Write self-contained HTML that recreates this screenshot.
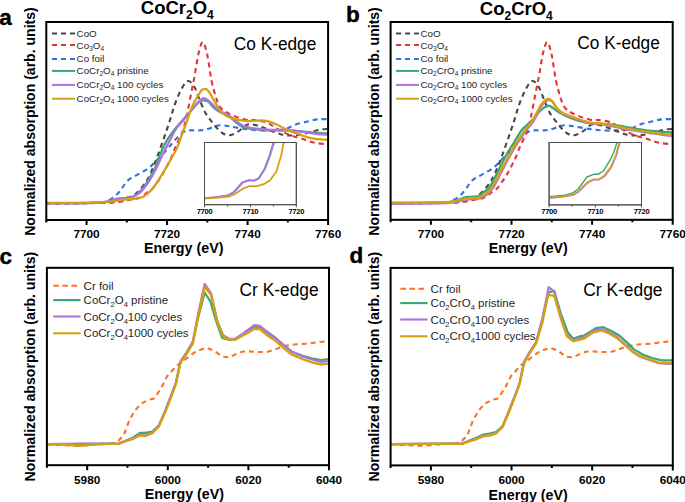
<!DOCTYPE html>
<html><head><meta charset="utf-8"><style>
html,body{margin:0;padding:0;background:#fff;}
svg{display:block;}
text{font-family:"Liberation Sans", sans-serif;}
</style></head><body>
<svg width="685" height="502" viewBox="0 0 685 502">
<rect x="0" y="0" width="685" height="502" fill="#fff"/>
<defs><clipPath id="ca"><rect x="46.3" y="22" width="281.8" height="198"/></clipPath><clipPath id="cb"><rect x="390.6" y="22" width="282.1" height="198"/></clipPath><clipPath id="cc"><rect x="46.9" y="267.8" width="282.1" height="197.4"/></clipPath><clipPath id="cd"><rect x="390.6" y="267.9" width="282.2" height="197.5"/></clipPath><clipPath id="cia"><rect x="204.5" y="142.5" width="92" height="62.2"/></clipPath><clipPath id="cib"><rect x="549.1" y="142.5" width="92.4" height="62.4"/></clipPath></defs>
<g>
<path d="M46.3,203.5 C53.58,203.42 81.05,203.17 90,203 C98.95,202.83 97.12,202.83 100,202.5 C102.88,202.17 104.63,202.2 107.3,201 C109.97,199.8 113.57,197.43 116,195.3 C118.43,193.17 119.93,190.67 121.9,188.2 C123.87,185.73 125.62,182.53 127.8,180.5 C129.98,178.47 132.33,177.55 135,176 C137.67,174.45 141.18,172.8 143.8,171.2 C146.42,169.6 148.5,168.27 150.7,166.4 C152.9,164.53 154.78,162.25 157,160 C159.22,157.75 161.83,155.25 164,152.9 C166.17,150.55 168,148.23 170,145.9 C172,143.57 173.85,141.15 176,138.9 C178.15,136.65 180.58,133.82 182.9,132.4 C185.22,130.98 187.07,130.73 189.9,130.4 C192.73,130.07 196.9,130.65 199.9,130.4 C202.9,130.15 205.25,129.63 207.9,128.9 C210.55,128.17 213.45,126.6 215.8,126 C218.15,125.4 219.63,125.23 222,125.3 C224.37,125.37 226.23,125.8 230,126.4 C233.77,127 239.73,128.23 244.6,128.9 C249.47,129.57 254.33,130.15 259.2,130.4 C264.07,130.65 269.42,130.65 273.8,130.4 C278.18,130.15 281.85,129.88 285.5,128.9 C289.15,127.92 292.05,125.72 295.7,124.5 C299.35,123.28 303.75,122.45 307.4,121.6 C311.05,120.75 314.17,119.82 317.6,119.4 C321.03,118.98 326.27,119.15 328,119.1" fill="none" stroke="#2b72e2" stroke-width="2.1" stroke-linejoin="round" stroke-dasharray="5 4" stroke-linecap="butt" clip-path="url(#ca)"/>
<path d="M46.3,203.5 C53.58,203.45 79.72,203.37 90,203.2 C100.28,203.03 103.33,202.87 108,202.5 C112.67,202.13 115,201.75 118,201 C121,200.25 123.2,199.07 126,198 C128.8,196.93 131.73,196.9 134.8,194.6 C137.87,192.3 141.75,187.8 144.4,184.2 C147.05,180.6 148.58,177.52 150.7,173 C152.82,168.48 154.88,162.95 157.1,157.1 C159.32,151.25 161.85,144.08 164,137.9 C166.15,131.72 168.17,125.67 170,120 C171.83,114.33 173,109.23 175,103.9 C177,98.57 179.85,91.82 182,88 C184.15,84.18 185.92,81.33 187.9,81 C189.88,80.67 192.07,83.18 193.9,86 C195.73,88.82 197.07,93.58 198.9,97.9 C200.73,102.22 202.73,107.9 204.9,111.9 C207.07,115.9 209.9,119.23 211.9,121.9 C213.9,124.57 215.05,125.97 216.9,127.9 C218.75,129.83 220.82,132.28 223,133.5 C225.18,134.72 227.37,135.6 230,135.2 C232.63,134.8 235.88,132.88 238.8,131.1 C241.72,129.32 244.58,125.47 247.5,124.5 C250.42,123.53 253.38,124.68 256.3,125.3 C259.22,125.92 262.08,127.12 265,128.2 C267.92,129.28 270.87,130.72 273.8,131.8 C276.73,132.88 279.68,134.08 282.6,134.7 C285.52,135.32 288.4,135.5 291.3,135.5 C294.2,135.5 296.58,135.32 300,134.7 C303.42,134.08 308.38,132.65 311.8,131.8 C315.22,130.95 317.8,130.08 320.5,129.6 C323.2,129.12 326.75,129.02 328,128.9" fill="none" stroke="#484848" stroke-width="2.1" stroke-linejoin="round" stroke-dasharray="5 4" stroke-linecap="butt" clip-path="url(#ca)"/>
<path d="M46.3,203.3 C55.25,203.22 88.05,203.02 100,202.8 C111.95,202.58 113,202.5 118,202 C123,201.5 126.33,200.55 130,199.8 C133.67,199.05 137.17,198.72 140,197.5 C142.83,196.28 144.87,194.05 147,192.5 C149.13,190.95 151.03,189.97 152.8,188.2 C154.57,186.43 156.02,184.15 157.6,181.9 C159.18,179.65 160.78,177.23 162.3,174.7 C163.82,172.17 165.23,169.48 166.7,166.7 C168.17,163.92 169.9,160.65 171.1,158 C172.3,155.35 172.92,153.22 173.9,150.8 C174.88,148.38 175.65,146.47 177,143.5 C178.35,140.53 180.45,137.3 182,133 C183.55,128.7 184.85,123.9 186.3,117.7 C187.75,111.5 189.25,103.12 190.7,95.8 C192.15,88.48 193.72,80.75 195,73.8 C196.28,66.85 197.12,59.4 198.4,54.1 C199.68,48.8 201.25,42 202.7,42 C204.15,42 205.63,47.7 207.1,54.1 C208.57,60.5 210.03,73.27 211.5,80.4 C212.97,87.53 214.5,92.48 215.9,96.9 C217.3,101.32 217.88,104.17 219.9,106.9 C221.92,109.63 223.88,111.22 228,113.3 C232.12,115.38 240.13,118.27 244.6,119.4 C249.07,120.53 251.15,119.62 254.8,120.1 C258.45,120.58 263.33,121.2 266.5,122.3 C269.67,123.4 271.12,125.12 273.8,126.7 C276.48,128.28 279.68,130.33 282.6,131.8 C285.52,133.27 287.9,134.28 291.3,135.5 C294.7,136.72 299.1,137.88 303,139.1 C306.9,140.32 310.53,141.95 314.7,142.8 C318.87,143.65 325.78,143.97 328,144.2" fill="none" stroke="#ea3038" stroke-width="2.1" stroke-linejoin="round" stroke-dasharray="5 4" stroke-linecap="butt" clip-path="url(#ca)"/>
<path d="M46.3,203.3 C53.58,203.25 80.22,203.22 90,203 C99.78,202.78 101.33,202.45 105,202 C108.67,201.55 109.83,200.85 112,200.3 C114.17,199.75 115.83,199.05 118,198.7 C120.17,198.35 122.67,198.48 125,198.2 C127.33,197.92 129.67,197.95 132,197 C134.33,196.05 136.33,195.25 139,192.5 C141.67,189.75 145.25,184.75 148,180.5 C150.75,176.25 153.5,171.27 155.5,167 C157.5,162.73 158.25,159.08 160,154.9 C161.75,150.72 163.5,146.23 166,141.9 C168.5,137.57 172.33,132.4 175,128.9 C177.67,125.4 179.85,123.4 182,120.9 C184.15,118.4 185.92,116.15 187.9,113.9 C189.88,111.65 191.9,109.48 193.9,107.4 C195.9,105.32 198.4,102.57 199.9,101.4 C201.4,100.23 201.57,100.4 202.9,100.4 C204.23,100.4 206.23,100.32 207.9,101.4 C209.57,102.48 211.23,105.32 212.9,106.9 C214.57,108.48 216.42,109.9 217.9,110.9 C219.38,111.9 219.78,111.8 221.8,112.9 C223.82,114 226.68,115.23 230,117.5 C233.32,119.77 238.05,124.58 241.7,126.5 C245.35,128.42 247.77,128.35 251.9,129 C256.03,129.65 260.42,130.17 266.5,130.4 C272.58,130.63 282.32,130.22 288.4,130.4 C294.48,130.58 298.13,131.1 303,131.5 C307.87,131.9 313.43,132.5 317.6,132.8 C321.77,133.1 326.27,133.22 328,133.3" fill="none" stroke="#3ba671" stroke-width="2.1" stroke-linejoin="round" stroke-linecap="round" clip-path="url(#ca)"/>
<path d="M46.3,203.3 C53.58,203.25 80.22,203.22 90,203 C99.78,202.78 101.33,202.45 105,202 C108.67,201.55 109.83,200.85 112,200.3 C114.17,199.75 115.83,199.05 118,198.7 C120.17,198.35 122.67,198.45 125,198.2 C127.33,197.95 129.57,198.07 132,197.2 C134.43,196.33 136.75,195.7 139.6,193 C142.45,190.3 146.18,185.38 149.1,181 C152.02,176.62 154.95,170.88 157.1,166.7 C159.25,162.52 160.02,160.03 162,155.9 C163.98,151.77 166.67,146.4 169,141.9 C171.33,137.4 173.83,132.23 176,128.9 C178.17,125.57 180.02,124.23 182,121.9 C183.98,119.57 185.92,117.4 187.9,114.9 C189.88,112.4 192.07,109.15 193.9,106.9 C195.73,104.65 197.4,102.82 198.9,101.4 C200.4,99.98 201.57,98.73 202.9,98.4 C204.23,98.07 205.4,98.48 206.9,99.4 C208.4,100.32 210.23,102.32 211.9,103.9 C213.57,105.48 215.25,107.57 216.9,108.9 C218.55,110.23 219.65,110.73 221.8,111.9 C223.95,113.07 226.48,113.72 229.8,115.9 C233.12,118.08 238.02,122.95 241.7,125 C245.38,127.05 247.77,127.43 251.9,128.2 C256.03,128.97 260.42,129.23 266.5,129.6 C272.58,129.97 282.32,130.03 288.4,130.4 C294.48,130.77 298.13,131.2 303,131.8 C307.87,132.4 313.43,133.52 317.6,134 C321.77,134.48 326.27,134.58 328,134.7" fill="none" stroke="#b072e2" stroke-width="2.3" stroke-linejoin="round" stroke-linecap="round" clip-path="url(#ca)"/>
<path d="M46.3,203 C55.25,202.88 88.55,202.63 100,202.3 C111.45,201.97 110.83,201.47 115,201 C119.17,200.53 121.9,199.85 125,199.5 C128.1,199.15 130.63,199.32 133.6,198.9 C136.57,198.48 139.68,198.65 142.8,197 C145.92,195.35 149.12,192.72 152.3,189 C155.48,185.28 158.87,179.53 161.9,174.7 C164.93,169.87 167.98,164.47 170.5,160 C173.02,155.53 174.93,152.57 177,147.9 C179.07,143.23 181.08,136.9 182.9,132 C184.72,127.1 186.23,123.02 187.9,118.5 C189.57,113.98 191.23,108.65 192.9,104.9 C194.57,101.15 196.4,98.48 197.9,96 C199.4,93.52 200.4,91.08 201.9,90 C203.4,88.92 205.4,88.67 206.9,89.5 C208.4,90.33 209.57,92.93 210.9,95 C212.23,97.07 213.57,99.58 214.9,101.9 C216.23,104.22 217.42,106.9 218.9,108.9 C220.38,110.9 221.98,112.48 223.8,113.9 C225.62,115.32 226.33,116.23 229.8,117.4 C233.27,118.57 240.18,120.37 244.6,120.9 C249.02,121.43 252.65,120.6 256.3,120.6 C259.95,120.6 263.1,120.25 266.5,120.9 C269.9,121.55 273.05,122.92 276.7,124.5 C280.35,126.08 284.52,128.7 288.4,130.4 C292.28,132.1 296.1,133.37 300,134.7 C303.9,136.03 307.13,137.53 311.8,138.4 C316.47,139.27 325.3,139.65 328,139.9" fill="none" stroke="#d5a114" stroke-width="2.3" stroke-linejoin="round" stroke-linecap="round" clip-path="url(#ca)"/>
</g>
<rect x="204.5" y="142.5" width="91.8" height="62.2" fill="#fff" stroke="#505050" stroke-width="1"/>
<path d="M203.9,198.2 L215.3,197.2 L228.1,195.3 L233.6,192.1 L242.4,182.3 L248.8,180.2 L253.5,180.7 L258.3,178.6 L264.7,168.3 L269.5,155.5 L273.4,142.5 L275.4,135" fill="none" stroke="#3ba671" stroke-width="1.6" stroke-linejoin="round" stroke-linecap="round" clip-path="url(#cia)"/>
<path d="M204.5,198.2 L215.9,197.2 L228.7,195.3 L234.2,192.1 L243,182.3 L249.4,180.2 L254.1,180.7 L258.9,178.6 L265.3,168.3 L270.1,155.5 L274,142.5 L276,135" fill="none" stroke="#b072e2" stroke-width="1.8" stroke-linejoin="round" stroke-linecap="round" clip-path="url(#cia)"/>
<path d="M204.5,198.5 L215.9,197.9 L228.7,196.6 L234.2,194.5 L243,188.6 L249.4,186.2 L257.3,186.2 L263.7,184.2 L270.1,180.2 L276.4,171.4 L281.2,155.5 L283.6,142.5 L285,135" fill="none" stroke="#d5a114" stroke-width="1.8" stroke-linejoin="round" stroke-linecap="round" clip-path="url(#cia)"/>
<rect x="204.5" y="142.5" width="91.8" height="62.2" fill="none" stroke="#505050" stroke-width="1"/>
<path d="M204.5,204.7 V207.2 M227.5,204.7 V206.5 M250.4,204.7 V207.2 M273.4,204.7 V206.5 M296.3,204.7 V207.2" stroke="#505050" stroke-width="1"/>
<text x="204.5" y="214" text-anchor="middle" font-size="7.6" font-weight="bold" letter-spacing="-0.3">7700</text>
<text x="250.4" y="214" text-anchor="middle" font-size="7.6" font-weight="bold" letter-spacing="-0.3">7710</text>
<text x="296.3" y="214" text-anchor="middle" font-size="7.6" font-weight="bold" letter-spacing="-0.3">7720</text>
<rect x="46.3" y="22" width="281.8" height="198" fill="none" stroke="#000" stroke-width="2"/>
<path d="M46.3,220 V222.5 M86.56,220 V225 M126.81,220 V222.5 M167.07,220 V225 M207.33,220 V222.5 M247.59,220 V225 M287.84,220 V222.5 M328.1,220 V225 " stroke="#000" stroke-width="2" fill="none"/>
<text x="86.56" y="237.7" text-anchor="middle" font-weight="bold" font-size="11.8">7700</text>
<text x="167.07" y="237.7" text-anchor="middle" font-weight="bold" font-size="11.8">7720</text>
<text x="247.59" y="237.7" text-anchor="middle" font-weight="bold" font-size="11.8">7740</text>
<text x="328.1" y="237.7" text-anchor="middle" font-weight="bold" font-size="11.8">7760</text>
<path d="M390.7,203.5 C397.98,203.42 425.45,203.17 434.4,203 C443.35,202.83 441.52,202.83 444.4,202.5 C447.28,202.17 449.03,202.2 451.7,201 C454.37,199.8 457.97,197.43 460.4,195.3 C462.83,193.17 464.33,190.67 466.3,188.2 C468.27,185.73 470.02,182.53 472.2,180.5 C474.38,178.47 476.73,177.55 479.4,176 C482.07,174.45 485.58,172.8 488.2,171.2 C490.82,169.6 492.9,168.27 495.1,166.4 C497.3,164.53 499.18,162.25 501.4,160 C503.62,157.75 506.23,155.25 508.4,152.9 C510.57,150.55 512.4,148.23 514.4,145.9 C516.4,143.57 518.25,141.15 520.4,138.9 C522.55,136.65 524.98,133.82 527.3,132.4 C529.62,130.98 531.47,130.73 534.3,130.4 C537.13,130.07 541.3,130.65 544.3,130.4 C547.3,130.15 549.65,129.63 552.3,128.9 C554.95,128.17 557.85,126.6 560.2,126 C562.55,125.4 564.03,125.23 566.4,125.3 C568.77,125.37 570.63,125.8 574.4,126.4 C578.17,127 584.13,128.23 589,128.9 C593.87,129.57 598.73,130.15 603.6,130.4 C608.47,130.65 613.82,130.65 618.2,130.4 C622.58,130.15 626.25,129.88 629.9,128.9 C633.55,127.92 636.45,125.72 640.1,124.5 C643.75,123.28 648.15,122.45 651.8,121.6 C655.45,120.75 658.57,119.82 662,119.4 C665.43,118.98 670.67,119.15 672.4,119.1" fill="none" stroke="#2b72e2" stroke-width="2.1" stroke-linejoin="round" stroke-dasharray="5 4" stroke-linecap="butt" clip-path="url(#cb)"/>
<path d="M390.7,203.5 C397.98,203.45 424.12,203.37 434.4,203.2 C444.68,203.03 447.73,202.87 452.4,202.5 C457.07,202.13 459.4,201.75 462.4,201 C465.4,200.25 467.6,199.07 470.4,198 C473.2,196.93 476.13,196.9 479.2,194.6 C482.27,192.3 486.15,187.8 488.8,184.2 C491.45,180.6 492.98,177.52 495.1,173 C497.22,168.48 499.28,162.95 501.5,157.1 C503.72,151.25 506.25,144.08 508.4,137.9 C510.55,131.72 512.57,125.67 514.4,120 C516.23,114.33 517.4,109.23 519.4,103.9 C521.4,98.57 524.25,91.82 526.4,88 C528.55,84.18 530.32,81.33 532.3,81 C534.28,80.67 536.47,83.18 538.3,86 C540.13,88.82 541.47,93.58 543.3,97.9 C545.13,102.22 547.13,107.9 549.3,111.9 C551.47,115.9 554.3,119.23 556.3,121.9 C558.3,124.57 559.45,125.97 561.3,127.9 C563.15,129.83 565.22,132.28 567.4,133.5 C569.58,134.72 571.77,135.6 574.4,135.2 C577.03,134.8 580.28,132.88 583.2,131.1 C586.12,129.32 588.98,125.47 591.9,124.5 C594.82,123.53 597.78,124.68 600.7,125.3 C603.62,125.92 606.48,127.12 609.4,128.2 C612.32,129.28 615.27,130.72 618.2,131.8 C621.13,132.88 624.08,134.08 627,134.7 C629.92,135.32 632.8,135.5 635.7,135.5 C638.6,135.5 640.98,135.32 644.4,134.7 C647.82,134.08 652.78,132.65 656.2,131.8 C659.62,130.95 662.2,130.08 664.9,129.6 C667.6,129.12 671.15,129.02 672.4,128.9" fill="none" stroke="#484848" stroke-width="2.1" stroke-linejoin="round" stroke-dasharray="5 4" stroke-linecap="butt" clip-path="url(#cb)"/>
<path d="M390.7,203.3 C399.65,203.22 432.45,203.02 444.4,202.8 C456.35,202.58 457.4,202.5 462.4,202 C467.4,201.5 470.73,200.55 474.4,199.8 C478.07,199.05 481.57,198.72 484.4,197.5 C487.23,196.28 489.27,194.05 491.4,192.5 C493.53,190.95 495.43,189.97 497.2,188.2 C498.97,186.43 500.42,184.15 502,181.9 C503.58,179.65 505.18,177.23 506.7,174.7 C508.22,172.17 509.63,169.48 511.1,166.7 C512.57,163.92 514.3,160.65 515.5,158 C516.7,155.35 517.32,153.22 518.3,150.8 C519.28,148.38 520.05,146.47 521.4,143.5 C522.75,140.53 524.85,137.3 526.4,133 C527.95,128.7 529.25,123.9 530.7,117.7 C532.15,111.5 533.65,103.12 535.1,95.8 C536.55,88.48 538.12,80.75 539.4,73.8 C540.68,66.85 541.52,59.4 542.8,54.1 C544.08,48.8 545.65,42 547.1,42 C548.55,42 550.03,47.7 551.5,54.1 C552.97,60.5 554.43,73.27 555.9,80.4 C557.37,87.53 558.9,92.48 560.3,96.9 C561.7,101.32 562.28,104.17 564.3,106.9 C566.32,109.63 568.28,111.22 572.4,113.3 C576.52,115.38 584.53,118.27 589,119.4 C593.47,120.53 595.55,119.62 599.2,120.1 C602.85,120.58 607.73,121.2 610.9,122.3 C614.07,123.4 615.52,125.12 618.2,126.7 C620.88,128.28 624.08,130.33 627,131.8 C629.92,133.27 632.3,134.28 635.7,135.5 C639.1,136.72 643.5,137.88 647.4,139.1 C651.3,140.32 654.93,141.95 659.1,142.8 C663.27,143.65 670.18,143.97 672.4,144.2" fill="none" stroke="#ea3038" stroke-width="2.1" stroke-linejoin="round" stroke-dasharray="5 4" stroke-linecap="butt" clip-path="url(#cb)"/>
<path d="M390.6,203 C398.83,202.92 429.77,202.75 440,202.5 C450.23,202.25 448.67,202.08 452,201.5 C455.33,200.92 457.33,199.75 460,199 C462.67,198.25 465,197.45 468,197 C471,196.55 475.4,197.1 478,196.3 C480.6,195.5 481.6,193.82 483.6,192.2 C485.6,190.58 487.62,190.05 490,186.6 C492.38,183.15 495.25,176.68 497.9,171.5 C500.55,166.32 503.23,160.28 505.9,155.5 C508.57,150.72 511.25,147.05 513.9,142.8 C516.55,138.55 518.7,133.82 521.8,130 C524.9,126.18 529.47,123.07 532.5,119.9 C535.53,116.73 537.45,113.38 540,111 C542.55,108.62 545.63,106.1 547.8,105.6 C549.97,105.1 551.17,106.9 553,108 C554.83,109.1 556,110.58 558.8,112.2 C561.6,113.82 564.83,115.88 569.8,117.7 C574.77,119.52 581.82,121.97 588.6,123.1 C595.38,124.23 603.2,123.65 610.5,124.5 C617.8,125.35 626.32,127.22 632.4,128.2 C638.48,129.18 642.13,129.8 647,130.4 C651.87,131 657.32,131.43 661.6,131.8 C665.88,132.17 670.85,132.47 672.7,132.6" fill="none" stroke="#3ba671" stroke-width="2.3" stroke-linejoin="round" stroke-linecap="round" clip-path="url(#cb)"/>
<path d="M391.4,204 C399.63,203.92 430.57,203.75 440.8,203.5 C451.03,203.25 449.47,202.92 452.8,202.5 C456.13,202.08 457.8,201.55 460.8,201 C463.8,200.45 467.8,199.57 470.8,199.2 C473.8,198.83 476.3,199.42 478.8,198.8 C481.3,198.18 483.38,197.37 485.8,195.5 C488.22,193.63 490.72,191.43 493.3,187.6 C495.88,183.77 498.63,177.55 501.3,172.5 C503.97,167.45 506.63,162.08 509.3,157.3 C511.97,152.52 514.58,148.1 517.3,143.8 C520.02,139.5 522.85,135.32 525.6,131.5 C528.35,127.68 531.05,125.23 533.8,120.9 C536.55,116.57 539.63,108.98 542.1,105.5 C544.57,102.02 546.82,100.58 548.6,100 C550.38,99.42 551.33,100.53 552.8,102 C554.27,103.47 555.53,106.75 557.4,108.8 C559.27,110.85 561.43,112.83 564,114.3 C566.57,115.77 568.57,116.1 572.8,117.6 C577.03,119.1 584.2,122.1 589.4,123.3 C594.6,124.5 599.13,124.07 604,124.8 C608.87,125.53 613.73,126.73 618.6,127.7 C623.47,128.67 628.33,129.75 633.2,130.6 C638.07,131.45 642.93,132.07 647.8,132.8 C652.67,133.53 658.12,134.43 662.4,135 C666.68,135.57 671.65,136 673.5,136.2" fill="none" stroke="#b072e2" stroke-width="2" stroke-linejoin="round" stroke-linecap="round" clip-path="url(#cb)"/>
<path d="M390.6,203 C398.83,202.92 429.77,202.75 440,202.5 C450.23,202.25 448.67,201.92 452,201.5 C455.33,201.08 457,200.55 460,200 C463,199.45 467,198.57 470,198.2 C473,197.83 475.5,198.42 478,197.8 C480.5,197.18 482.58,196.37 485,194.5 C487.42,192.63 489.92,190.43 492.5,186.6 C495.08,182.77 497.83,176.55 500.5,171.5 C503.17,166.45 505.83,161.08 508.5,156.3 C511.17,151.52 513.78,147.1 516.5,142.8 C519.22,138.5 522.05,134.32 524.8,130.5 C527.55,126.68 530.25,124.23 533,119.9 C535.75,115.57 538.83,107.98 541.3,104.5 C543.77,101.02 546.02,99.58 547.8,99 C549.58,98.42 550.53,99.53 552,101 C553.47,102.47 554.73,105.75 556.6,107.8 C558.47,109.85 560.63,111.83 563.2,113.3 C565.77,114.77 567.77,115.1 572,116.6 C576.23,118.1 583.4,121.1 588.6,122.3 C593.8,123.5 598.33,123.07 603.2,123.8 C608.07,124.53 612.93,125.73 617.8,126.7 C622.67,127.67 627.53,128.75 632.4,129.6 C637.27,130.45 642.13,131.07 647,131.8 C651.87,132.53 657.32,133.43 661.6,134 C665.88,134.57 670.85,135 672.7,135.2" fill="none" stroke="#d5a114" stroke-width="2.4" stroke-linejoin="round" stroke-linecap="round" clip-path="url(#cb)"/>
<rect x="549.1" y="142.5" width="92.4" height="62.4" fill="#fff" stroke="#505050" stroke-width="1"/>
<path d="M549.7,198.3 L565.3,196.7 L573.3,195.1 L578.8,191.9 L588.4,182.4 L594.8,179.7 L598.7,180 L604.3,176.8 L611.5,167.3 L616.3,156.1 L619.8,143.1 L621.6,135.6" fill="none" stroke="#b072e2" stroke-width="1.3" stroke-linejoin="round" stroke-linecap="round" clip-path="url(#cib)"/>
<path d="M549.1,196.6 L564.7,195.3 L572.7,192.9 L578.2,189 L587,177 L593.4,174.3 L598.1,174.3 L603.7,170.6 L610.9,158.7 L614.1,151.5 L617,142.5 L619,135" fill="none" stroke="#3ba671" stroke-width="1.4" stroke-linejoin="round" stroke-linecap="round" clip-path="url(#cib)"/>
<path d="M549.1,197.7 L564.7,196.1 L572.7,194.5 L578.2,191.3 L587.8,181.8 L594.2,179.1 L598.1,179.4 L603.7,176.2 L610.9,166.7 L615.7,155.5 L619.2,142.5 L621,135" fill="none" stroke="#d5a114" stroke-width="1.5" stroke-linejoin="round" stroke-linecap="round" clip-path="url(#cib)"/>
<rect x="549.1" y="142.5" width="92.4" height="62.4" fill="none" stroke="#505050" stroke-width="1"/>
<path d="M549.1,204.9 V207.4 M572.2,204.9 V206.7 M595.3,204.9 V207.4 M618.4,204.9 V206.7 M641.5,204.9 V207.4" stroke="#505050" stroke-width="1"/>
<text x="549.1" y="214" text-anchor="middle" font-size="7.6" font-weight="bold" letter-spacing="-0.3">7700</text>
<text x="595.3" y="214" text-anchor="middle" font-size="7.6" font-weight="bold" letter-spacing="-0.3">7710</text>
<text x="641.5" y="214" text-anchor="middle" font-size="7.6" font-weight="bold" letter-spacing="-0.3">7720</text>
<rect x="390.6" y="22" width="282.1" height="197.8" fill="none" stroke="#000" stroke-width="2"/>
<path d="M390.6,219.8 V222.3 M430.9,219.8 V224.8 M471.2,219.8 V222.3 M511.5,219.8 V224.8 M551.8,219.8 V222.3 M592.1,219.8 V224.8 M632.4,219.8 V222.3 M672.7,219.8 V224.8 " stroke="#000" stroke-width="2" fill="none"/>
<text x="430.9" y="237.7" text-anchor="middle" font-weight="bold" font-size="11.8">7700</text>
<text x="511.5" y="237.7" text-anchor="middle" font-weight="bold" font-size="11.8">7720</text>
<text x="592.1" y="237.7" text-anchor="middle" font-weight="bold" font-size="11.8">7740</text>
<text x="672.7" y="237.7" text-anchor="middle" font-weight="bold" font-size="11.8">7760</text>
<path d="M46.9,444.5 L60,445 L79,445.8 L95,444.5 L112,443.6 L118.1,441.1 L123.8,435 L129.5,419.8 L135.2,410.4 L140.9,403.7 L148.5,399.9 L154.2,398.4 L161,388.5 L167.3,376 L176.8,365.7 L186.3,358.6 L195.9,351.4 L206.3,347.6 L214.3,350.8 L222.2,356.6 L229.4,357.4 L239,352.6 L245.4,351.1 L256.1,352 L266.9,352 L274.1,349.8 L283,346.3 L293.8,344.5 L308.1,343.6 L318.9,342.1 L329,340.9" fill="none" stroke="#fd7120" stroke-width="2.1" stroke-linejoin="round" stroke-dasharray="5 4" stroke-linecap="butt" clip-path="url(#cc)"/>
<path d="M46.9,444.1 L112.4,443.6 L118.1,443.8 L125.7,440.8 L133.3,437.5 L139.9,432.8 L145.6,432.8 L152.3,431.5 L158.9,425.5 L165.5,410.5 L172.2,393 L176,383 L180.3,362.5 L186.4,353 L192.8,342.5 L198.3,317 L204.7,292.5 L210.3,301.3 L216.7,322.8 L222.3,338 L229.4,340 L235.4,339.5 L242.6,334.5 L247.2,331.5 L254.3,326.9 L259.7,327.5 L266.9,332.5 L275.9,338.5 L283,344.5 L292,352 L302.7,355.8 L311.7,358.3 L320.7,360 L329,359.2" fill="none" stroke="#3ba671" stroke-width="2.2" stroke-linejoin="round" stroke-linecap="round" clip-path="url(#cc)"/>
<path d="M46.9,444.1 L112.4,443.6 L118.1,443.8 L125.7,440.8 L133.3,438.3 L139.9,434.8 L145.6,435.5 L152.3,432.5 L158.9,425.5 L165.5,410 L172.2,392.5 L176,382 L180.3,361.5 L186.4,352.5 L192.8,341.5 L198.3,313 L204.7,283.8 L211.1,293.3 L217.4,321.5 L223.4,335.5 L229.4,338.8 L235.4,338.5 L242.6,334 L247.2,330.5 L254.3,325.1 L259.7,325.8 L266.9,331.5 L275.9,338 L283,344.5 L292,351.5 L302.7,356.5 L311.7,359.5 L320.7,361.9 L329,361.2" fill="none" stroke="#b072e2" stroke-width="2.2" stroke-linejoin="round" stroke-linecap="round" clip-path="url(#cc)"/>
<path d="M46.9,444.1 L65,444.5 L79.2,445.8 L93.4,444.5 L112.4,443.6 L118.1,444.1 L125.7,441.1 L133.3,438.8 L139.9,435.4 L145.6,436 L152.3,433.1 L158.9,426.5 L165.5,411.3 L172.2,394.2 L176,383.8 L180.3,363.3 L186.4,354 L192.8,343.6 L198.3,314.9 L204.7,287 L211.1,294.9 L217.5,322.8 L223.1,336.4 L229.4,339.6 L235,339.6 L242.6,335.8 L247.2,333.2 L254.3,328.7 L259.7,329 L266.9,335 L275.9,341.2 L283,347.5 L292,354.7 L302.7,359.2 L311.7,362.4 L320.7,364.5 L329,363.6" fill="none" stroke="#d5a114" stroke-width="2.4" stroke-linejoin="round" stroke-linecap="round" clip-path="url(#cc)"/>
<rect x="46.9" y="267.8" width="282.1" height="197.4" fill="none" stroke="#000" stroke-width="2"/>
<path d="M46.9,465.2 V467.7 M87.2,465.2 V470.2 M127.5,465.2 V467.7 M167.8,465.2 V470.2 M208.1,465.2 V467.7 M248.4,465.2 V470.2 M288.7,465.2 V467.7 M329,465.2 V470.2 " stroke="#000" stroke-width="2" fill="none"/>
<text x="87.2" y="483.6" text-anchor="middle" font-weight="bold" font-size="11.8">5980</text>
<text x="167.8" y="483.6" text-anchor="middle" font-weight="bold" font-size="11.8">6000</text>
<text x="248.4" y="483.6" text-anchor="middle" font-weight="bold" font-size="11.8">6020</text>
<text x="329" y="483.6" text-anchor="middle" font-weight="bold" font-size="11.8">6040</text>
<path d="M390.6,444.5 L403.7,445 L422.7,445.8 L438.7,444.5 L455.7,443.6 L461.8,441.1 L467.5,435 L473.2,419.8 L478.9,410.4 L484.6,403.7 L492.2,399.9 L497.9,398.4 L504.7,388.5 L511,376 L520.5,365.7 L530,358.6 L539.6,351.4 L550,347.6 L558,350.8 L565.9,356.6 L573.1,357.4 L582.7,352.6 L589.1,351.1 L599.8,352 L610.6,352 L617.8,349.8 L626.7,346.3 L637.5,344.5 L651.8,343.6 L662.6,342.1 L672.7,340.9" fill="none" stroke="#fd7120" stroke-width="2.1" stroke-linejoin="round" stroke-dasharray="5 4" stroke-linecap="butt" clip-path="url(#cd)"/>
<path d="M390.6,444.1 L456.1,443.6 L461.8,443.8 L469.4,440.5 L477,437.5 L483.6,434.5 L489.3,433.5 L496,432 L502.6,426 L509.2,410.5 L515.9,393.5 L519.7,383 L524,362.5 L528.8,353.5 L536,342.5 L542.3,320 L548.7,292.2 L554.3,291 L560.7,313.3 L567.8,332.4 L573.4,338.8 L580,336.4 L584.2,335.5 L595.9,328.2 L603.2,327.2 L610.5,330.4 L619.3,335.5 L626.6,342.1 L633.9,349.4 L642.6,354.5 L652.8,358.2 L661.6,360.4 L672.8,360.4" fill="none" stroke="#3ba671" stroke-width="2.2" stroke-linejoin="round" stroke-linecap="round" clip-path="url(#cd)"/>
<path d="M390.6,444.1 L456.1,443.6 L461.8,443.9 L469.4,441 L477,438.6 L483.6,435.8 L489.3,435 L496,433 L502.6,426.5 L509.2,410.5 L515.9,393 L519.7,382.5 L524,362 L528.8,353.5 L536,342 L542.3,319 L548.7,287 L554.3,291.7 L560.7,316.5 L567,335 L573.4,340 L580,338.6 L584.2,337.2 L593,331 L601.7,329 L609,332 L617.8,337.5 L625.1,344.5 L632.4,351.5 L639.7,356.5 L649.9,360.3 L658.7,363.2 L667.4,364 L672.8,363.6" fill="none" stroke="#b072e2" stroke-width="2.2" stroke-linejoin="round" stroke-linecap="round" clip-path="url(#cd)"/>
<path d="M390.6,444.1 L456.1,443.6 L461.8,444.1 L469.4,441.3 L477,439 L483.6,436.2 L489.3,435.5 L496,433.5 L502.6,427 L509.2,411.3 L515.9,394.2 L519.7,383.8 L524,363.3 L528.8,354.7 L536,343.6 L542.3,322.8 L547.9,294.9 L554.3,295.7 L560.7,318.1 L567,336.4 L573.4,341.2 L580,339.6 L584.2,338.5 L593,332.6 L601.7,330.4 L609,333.4 L617.8,338.5 L625.1,345 L632.4,351.6 L639.7,356 L649.9,359.6 L658.7,362.6 L667.4,363.3 L672.8,362.8" fill="none" stroke="#d5a114" stroke-width="2.4" stroke-linejoin="round" stroke-linecap="round" clip-path="url(#cd)"/>
<rect x="390.6" y="267.9" width="282.2" height="197.5" fill="none" stroke="#000" stroke-width="2"/>
<path d="M390.6,465.4 V467.9 M430.91,465.4 V470.4 M471.23,465.4 V467.9 M511.54,465.4 V470.4 M551.86,465.4 V467.9 M592.17,465.4 V470.4 M632.49,465.4 V467.9 M672.8,465.4 V470.4 " stroke="#000" stroke-width="2" fill="none"/>
<text x="430.91" y="483.6" text-anchor="middle" font-weight="bold" font-size="11.8">5980</text>
<text x="511.54" y="483.6" text-anchor="middle" font-weight="bold" font-size="11.8">6000</text>
<text x="592.17" y="483.6" text-anchor="middle" font-weight="bold" font-size="11.8">6020</text>
<text x="672.8" y="483.6" text-anchor="middle" font-weight="bold" font-size="11.8">6040</text>
<text transform="translate(34.6,235.8) rotate(-90)" font-weight="bold" font-size="14.3" textLength="228.5" lengthAdjust="spacingAndGlyphs">Normalized absorption (arb. units)</text>
<text transform="translate(379,235.7) rotate(-90)" font-weight="bold" font-size="14.3" textLength="228.5" lengthAdjust="spacingAndGlyphs">Normalized absorption (arb. units)</text>
<text transform="translate(34.8,481.5) rotate(-90)" font-weight="bold" font-size="14.3" textLength="229.8" lengthAdjust="spacingAndGlyphs">Normalized absorption (arb. units)</text>
<text transform="translate(379,481.5) rotate(-90)" font-weight="bold" font-size="14.3" textLength="229.8" lengthAdjust="spacingAndGlyphs">Normalized absorption (arb. units)</text>
<text x="144" y="253.2" font-weight="bold" font-size="13.9" textLength="79.5" lengthAdjust="spacingAndGlyphs">Energy (eV)</text>
<text x="488.7" y="253.2" font-weight="bold" font-size="13.9" textLength="79.1" lengthAdjust="spacingAndGlyphs">Energy (eV)</text>
<text x="144.8" y="499.3" font-weight="bold" font-size="13.9" textLength="79.2" lengthAdjust="spacingAndGlyphs">Energy (eV)</text>
<text x="488.6" y="499.6" font-weight="bold" font-size="13.9" textLength="79.2" lengthAdjust="spacingAndGlyphs">Energy (eV)</text>
<text x="-0.8" y="25" font-weight="bold" font-size="22.5" stroke="#000" stroke-width="0.4">a</text>
<text x="346.1" y="22" font-weight="bold" font-size="22.5" stroke="#000" stroke-width="0.4">b</text>
<text x="-0.5" y="264" font-weight="bold" font-size="22.5" stroke="#000" stroke-width="0.4">c</text>
<text x="349.5" y="263" font-weight="bold" font-size="22.5" stroke="#000" stroke-width="0.4">d</text>
<text x="140.8" y="14" font-weight="bold" font-size="18.5">CoCr<tspan font-size="12" dy="5.3">2</tspan><tspan dy="-5.3">O</tspan><tspan font-size="12" dy="5.3">4</tspan></text>
<text x="479.8" y="14.6" font-weight="bold" font-size="18.5">Co<tspan font-size="12" dy="5.3">2</tspan><tspan dy="-5.3">CrO</tspan><tspan font-size="12" dy="5.3">4</tspan></text>
<text x="233.8" y="49.5" font-size="18" textLength="82.5" lengthAdjust="spacingAndGlyphs">Co K-edge</text>
<text x="577.3" y="49.2" font-size="18" textLength="82.5" lengthAdjust="spacingAndGlyphs">Co K-edge</text>
<text x="239.6" y="296.4" font-size="18" textLength="79" lengthAdjust="spacingAndGlyphs">Cr K-edge</text>
<text x="583.2" y="296.4" font-size="18" textLength="79.3" lengthAdjust="spacingAndGlyphs">Cr K-edge</text>
<path d="M52,33.5 H75" stroke="#484848" stroke-width="2" stroke-dasharray="5 4"/>
<text x="76.6" y="36.9" font-size="9.8" fill="#262626">CoO</text>
<path d="M52,45.1 H75" stroke="#ea3038" stroke-width="2" stroke-dasharray="5 4"/>
<text x="76.6" y="48.5" font-size="9.8" fill="#262626">Co<tspan font-size="6.5" dy="2.5">3</tspan><tspan dy="-2.5">O</tspan><tspan font-size="6.5" dy="2.5">4</tspan></text>
<path d="M52,58.9 H75" stroke="#2b72e2" stroke-width="2" stroke-dasharray="5 4"/>
<text x="76.6" y="62.3" font-size="9.8" fill="#262626">Co foil</text>
<path d="M52,70.9 H75" stroke="#3ba671" stroke-width="2"/>
<text x="76.6" y="73.9" font-size="9.8" fill="#262626">CoCr<tspan font-size="6.5" dy="2.5">2</tspan><tspan dy="-2.5">O</tspan><tspan font-size="6.5" dy="2.5">4</tspan><tspan dy="-2.5"> pristine</tspan></text>
<path d="M52,84.9 H75" stroke="#b072e2" stroke-width="2"/>
<text x="76.6" y="87.9" font-size="9.8" fill="#262626">CoCr<tspan font-size="6.5" dy="2.5">2</tspan><tspan dy="-2.5">O</tspan><tspan font-size="6.5" dy="2.5">4</tspan><tspan dy="-2.5"> 100 cycles</tspan></text>
<path d="M52,98.7 H75" stroke="#d5a114" stroke-width="2"/>
<text x="76.6" y="101.5" font-size="9.8" fill="#262626">CoCr<tspan font-size="6.5" dy="2.5">2</tspan><tspan dy="-2.5">O</tspan><tspan font-size="6.5" dy="2.5">4</tspan><tspan dy="-2.5"> 1000 cycles</tspan></text>
<path d="M396.1,33.5 H418.9" stroke="#484848" stroke-width="2" stroke-dasharray="5 4"/>
<text x="420.5" y="36.9" font-size="9.8" fill="#262626">CoO</text>
<path d="M396.1,45.1 H418.9" stroke="#ea3038" stroke-width="2" stroke-dasharray="5 4"/>
<text x="420.5" y="48.5" font-size="9.8" fill="#262626">Co<tspan font-size="6.5" dy="2.5">3</tspan><tspan dy="-2.5">O</tspan><tspan font-size="6.5" dy="2.5">4</tspan></text>
<path d="M396.1,58.9 H418.9" stroke="#2b72e2" stroke-width="2" stroke-dasharray="5 4"/>
<text x="420.5" y="62.3" font-size="9.8" fill="#262626">Co foil</text>
<path d="M396.1,70.9 H418.9" stroke="#3ba671" stroke-width="2"/>
<text x="420.5" y="73.9" font-size="9.8" fill="#262626">Co<tspan font-size="6.5" dy="2.5">2</tspan><tspan dy="-2.5">CrO</tspan><tspan font-size="6.5" dy="2.5">4</tspan><tspan dy="-2.5"> pristine</tspan></text>
<path d="M396.1,84.9 H418.9" stroke="#b072e2" stroke-width="2"/>
<text x="420.5" y="87.9" font-size="9.8" fill="#262626">Co<tspan font-size="6.5" dy="2.5">2</tspan><tspan dy="-2.5">CrO</tspan><tspan font-size="6.5" dy="2.5">4</tspan><tspan dy="-2.5"> 100 cycles</tspan></text>
<path d="M396.1,98.7 H418.9" stroke="#d5a114" stroke-width="2"/>
<text x="420.5" y="101.5" font-size="9.8" fill="#262626">Co<tspan font-size="6.5" dy="2.5">2</tspan><tspan dy="-2.5">CrO</tspan><tspan font-size="6.5" dy="2.5">4</tspan><tspan dy="-2.5"> 1000 cycles</tspan></text>
<path d="M53.4,285.8 H77.1" stroke="#fd7120" stroke-width="2.1" stroke-dasharray="5.6 3.4"/>
<text x="83.6" y="290.1" font-size="11.5" fill="#262626">Cr foil</text>
<path d="M53.2,300.1 H80.6" stroke="#3ba671" stroke-width="2.1"/>
<text x="83.6" y="303.9" font-size="11.5" fill="#262626">CoCr<tspan font-size="7.6" dy="3">2</tspan><tspan dy="-3">O</tspan><tspan font-size="7.6" dy="3">4</tspan><tspan dy="-3"> pristine</tspan></text>
<path d="M53.2,316.5 H80.6" stroke="#b072e2" stroke-width="2.1"/>
<text x="83.6" y="320.5" font-size="11.5" fill="#262626">CoCr<tspan font-size="7.6" dy="3">2</tspan><tspan dy="-3">O</tspan><tspan font-size="7.6" dy="3">4</tspan><tspan dy="-3">100 cycles</tspan></text>
<path d="M53.2,333.3 H80.6" stroke="#d5a114" stroke-width="2.1"/>
<text x="83.6" y="337.2" font-size="11.5" fill="#262626">CoCr<tspan font-size="7.6" dy="3">2</tspan><tspan dy="-3">O</tspan><tspan font-size="7.6" dy="3">4</tspan><tspan dy="-3">1000 cycles</tspan></text>
<path d="M400.4,288.8 H424.1" stroke="#fd7120" stroke-width="2.1" stroke-dasharray="5.6 3.4"/>
<text x="430.6" y="293.1" font-size="11.5" fill="#262626">Cr foil</text>
<path d="M400.2,303.1 H427.6" stroke="#3ba671" stroke-width="2.1"/>
<text x="430.6" y="306.9" font-size="11.5" fill="#262626">Co<tspan font-size="7.6" dy="3">2</tspan><tspan dy="-3">CrO</tspan><tspan font-size="7.6" dy="3">4</tspan><tspan dy="-3"> pristine</tspan></text>
<path d="M400.2,319.5 H427.6" stroke="#b072e2" stroke-width="2.1"/>
<text x="430.6" y="323.5" font-size="11.5" fill="#262626">Co<tspan font-size="7.6" dy="3">2</tspan><tspan dy="-3">CrO</tspan><tspan font-size="7.6" dy="3">4</tspan><tspan dy="-3">100 cycles</tspan></text>
<path d="M400.2,336.3 H427.6" stroke="#d5a114" stroke-width="2.1"/>
<text x="430.6" y="340.2" font-size="11.5" fill="#262626">Co<tspan font-size="7.6" dy="3">2</tspan><tspan dy="-3">CrO</tspan><tspan font-size="7.6" dy="3">4</tspan><tspan dy="-3">1000 cycles</tspan></text>
</svg>
</body></html>
